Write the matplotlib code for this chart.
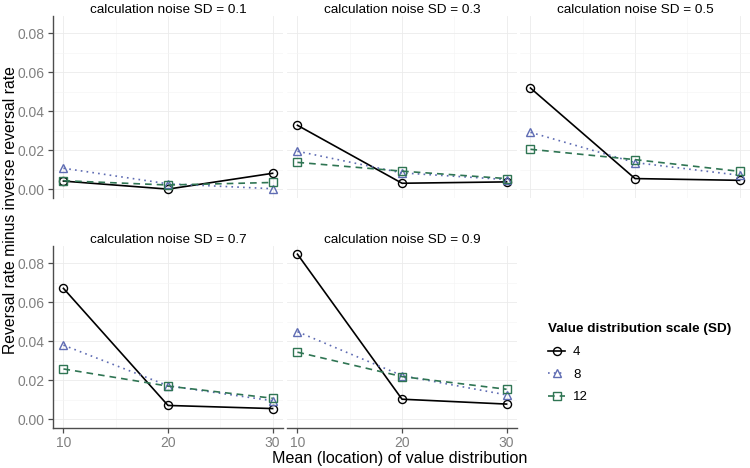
import matplotlib
matplotlib.use("Agg")
import matplotlib.pyplot as plt

plt.rcParams["font.family"] = ["Liberation Sans", "DejaVu Sans"]

# x positions: mean of the value distribution
means = [10, 20, 30]
noise_sd = [0.1, 0.3, 0.5, 0.7, 0.9]
scale_labels = ["4", "8", "12"]

# reversal rate minus inverse reversal rate, one row per noise SD
diff_sd4 = [
    [0.0042, 0.0001, 0.0082],
    [0.0328, 0.0031, 0.0038],
    [0.0519, 0.0055, 0.0046],
    [0.0671, 0.0071, 0.0055],
    [0.0846, 0.0103, 0.0078],
]
diff_sd8 = [
    [0.0108, 0.0028, 0.0003],
    [0.0195, 0.0084, 0.0050],
    [0.0292, 0.0137, 0.0072],
    [0.0380, 0.0172, 0.0095],
    [0.0449, 0.0224, 0.0125],
]
diff_sd12 = [
    [0.0044, 0.0022, 0.0035],
    [0.0138, 0.0093, 0.0055],
    [0.0205, 0.0152, 0.0092],
    [0.0258, 0.0170, 0.0108],
    [0.0344, 0.0219, 0.0154],
]

styles = [
    dict(color="black", ls="-", marker="o"),
    dict(color="#5f6cb3", ls=(0, (1, 2.5)), marker="^"),
    dict(color="#2f7553", ls=(0, (4, 3)), marker="s"),
]

W, H = 750, 468
fig = plt.figure(figsize=(7.5, 4.68), dpi=100)

# panel boxes in pixels: (left, top)
panel_px = [(53, 16), (287, 16), (520, 16), (53, 246), (287, 246)]
pw, ph = 230, 181.5

axes = []
for i, (lx, ty) in enumerate(panel_px):
    ax = fig.add_axes([lx / W, 1 - (ty + ph) / H, pw / W, ph / H])
    axes.append(ax)
    series = [diff_sd4[i], diff_sd8[i], diff_sd12[i]]
    for vals, st, lab in zip(series, styles, scale_labels):
        ax.plot(means, vals, color=st["color"], linestyle=st["ls"], lw=1.2,
                marker=st["marker"], markersize=5.8, markerfacecolor="none",
                markeredgewidth=1.0, label=lab)
    ax.set_xlim(9, 31)
    ax.set_ylim(-0.0042, 0.0888)
    ax.set_xticks(means)
    ax.set_yticks([0, 0.02, 0.04, 0.06, 0.08])
    ax.set_xticks([15, 25], minor=True)
    ax.set_yticks([0.01, 0.03, 0.05, 0.07], minor=True)
    ax.grid(True, which="major", color="#ebebeb", lw=0.6)
    ax.grid(True, which="minor", color="#f4f4f4", lw=0.4)
    ax.set_axisbelow(True)
    ax.set_title(f"calculation noise SD = {noise_sd[i]}", fontsize=9.7, pad=2)
    for s in ax.spines.values():
        s.set_visible(False)
    ax.tick_params(which="minor", length=0)
    ax.tick_params(colors="#4d4d4d", labelcolor="#808080", labelsize=10,
                   length=3.5, width=0.9, pad=2.5)
    left_col = i in (0, 3)
    bottom_row = i in (3, 4)
    if left_col:
        ax.spines["left"].set_visible(True)
        ax.spines["left"].set_color("#4d4d4d")
        ax.spines["left"].set_linewidth(1.0)
        ax.set_yticklabels(["0.00", "0.02", "0.04", "0.06", "0.08"])
    else:
        ax.tick_params(axis="y", left=False, labelleft=False)
    if bottom_row:
        ax.spines["bottom"].set_visible(True)
        ax.spines["bottom"].set_color("#4d4d4d")
        ax.spines["bottom"].set_linewidth(1.0)
    else:
        ax.tick_params(axis="x", bottom=False, labelbottom=False)

fig.text(11 / W, 1 - 210 / H, "Reversal rate minus inverse reversal rate",
         rotation=90, va="center", ha="center", fontsize=11.3)
fig.text(400 / W, 1 - 459 / H, "Mean (location) of value distribution",
         va="center", ha="center", fontsize=11.6)

handles, labels = axes[0].get_legend_handles_labels()
leg = fig.legend(handles, labels, loc="upper left",
                 bbox_to_anchor=(548 / W, 1 - 323 / H), frameon=False,
                 title="Value distribution scale (SD)", alignment="left",
                 title_fontproperties={"weight": "bold", "size": 9.7},
                 fontsize=9.5, handlelength=1.3, handletextpad=0.6,
                 labelspacing=0.78, borderaxespad=0, borderpad=0)
leg._legend_box.sep = 8

fig.savefig("out.png", dpi=100)
